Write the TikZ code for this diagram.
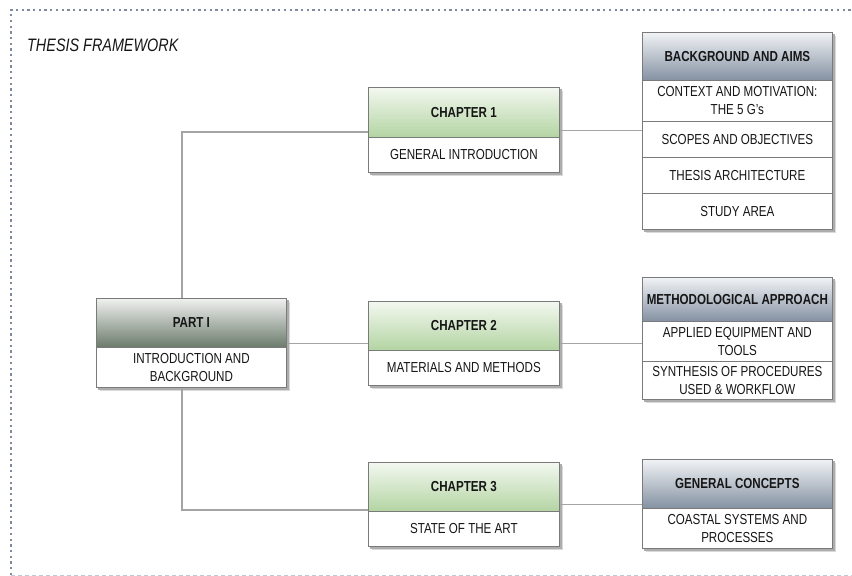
\documentclass[tikz,border=0pt]{standalone}
\usepackage{fontspec}
\setmainfont{Liberation Sans}[FakeStretch=0.8]
\usetikzlibrary{backgrounds}
\definecolor{bordc}{HTML}{7A7A7A}
\definecolor{connc}{HTML}{A4A4A4}
\definecolor{txtc}{HTML}{161616}
\definecolor{grtop}{HTML}{F3F8F0}
\definecolor{grbot}{HTML}{B3D4A2}
\definecolor{ptop}{HTML}{F0F1F0}
\definecolor{pbot}{HTML}{6B7B6B}
\definecolor{btop}{HTML}{F1F3F6}
\definecolor{bbot}{HTML}{8491A2}
\definecolor{framec}{HTML}{7F8B9D}
\definecolor{frameb}{HTML}{BCC8D6}
\tikzset{
  hdr/.style={draw=bordc, line width=0.7pt, anchor=north west, inner sep=0pt,
    font=\bfseries\fontsize{14.5}{18}\selectfont, align=center, text=txtc},
  rowbox/.style={draw=bordc, line width=0.7pt, fill=white, anchor=north west, inner sep=0pt,
    font=\fontsize{14.5}{18}\selectfont, align=center, text=txtc},
  greenh/.style={hdr, top color=grtop, bottom color=grbot, minimum width=191pt},
  parth/.style={hdr, top color=ptop, bottom color=pbot, minimum width=190pt},
  blueh/.style={hdr, top color=btop, bottom color=bbot, minimum width=190pt},
  conn/.style={draw=connc, line width=1.3pt},
  shad/.style={fill=black!32},
  shadl/.style={fill=black!15},
}
\newcommand\boxshadow[2]{%
  \fill[shadl] ([shift={(3.5pt,-3.5pt)}]#1.north west) rectangle ([shift={(3.5pt,-3.5pt)}]#2.south east);
  \fill[shad] ([shift={(2pt,-2pt)}]#1.north west) rectangle ([shift={(2pt,-2pt)}]#2.south east);}
\begin{document}
\begin{tikzpicture}[x=1pt,y=-1pt]
\useasboundingbox (0,0) rectangle (852,576);
% frame
\draw[framec, line width=2.3pt, dash pattern=on 2.3pt off 3.4pt] (11,575) -- (11,10) -- (852,10);
\draw[frameb, line width=1pt, dash pattern=on 4pt off 3pt] (11,575) -- (852,575);
\node[anchor=west, inner sep=0pt, text=txtc, font=\itshape\fontsize{18}{20}\selectfont] (title) at (27,45) {THESIS FRAMEWORK};

% Part I
\node[parth, minimum height=49pt] (p1h) at (96,298) {PART I};
\node[rowbox, minimum width=190pt, minimum height=40pt] (p1b) at (96,347) {INTRODUCTION AND\\BACKGROUND};

% Chapters
\node[greenh, minimum height=50pt] (ch1h) at (368,87) {CHAPTER 1};
\node[rowbox, minimum width=191pt, minimum height=35pt] (ch1b) at (368,137) {GENERAL INTRODUCTION};
\node[greenh, minimum height=49pt] (ch2h) at (368,301) {CHAPTER 2};
\node[rowbox, minimum width=191pt, minimum height=35pt] (ch2b) at (368,350) {MATERIALS AND METHODS};
\node[greenh, minimum height=49pt] (ch3h) at (368,462) {CHAPTER 3};
\node[rowbox, minimum width=191pt, minimum height=35pt] (ch3b) at (368,511) {STATE OF THE ART};

% Right boxes
\node[blueh, minimum height=48pt] (b1h) at (642,32) {BACKGROUND AND AIMS};
\node[rowbox, minimum width=190pt, minimum height=41pt] (b1r1) at (642,80) {CONTEXT AND MOTIVATION:\\THE 5 G's};
\node[rowbox, minimum width=190pt, minimum height=36pt] (b1r2) at (642,121) {SCOPES AND OBJECTIVES};
\node[rowbox, minimum width=190pt, minimum height=36pt] (b1r3) at (642,157) {THESIS ARCHITECTURE};
\node[rowbox, minimum width=190pt, minimum height=36pt] (b1r4) at (642,193) {STUDY AREA};

\node[blueh, minimum height=44pt] (b2h) at (642,277) {METHODOLOGICAL APPROACH};
\node[rowbox, minimum width=190pt, minimum height=40pt] (b2r1) at (642,321) {APPLIED EQUIPMENT AND\\TOOLS};
\node[rowbox, minimum width=190pt, minimum height=38pt] (b2r2) at (642,361) {SYNTHESIS OF PROCEDURES\\USED \& WORKFLOW};

\node[blueh, minimum height=49pt] (b3h) at (642,459) {GENERAL CONCEPTS};
\node[rowbox, minimum width=190pt, minimum height=40pt] (b3r1) at (642,508) {COASTAL SYSTEMS AND\\PROCESSES};

% connectors
\coordinate (j1) at (182,132);
\coordinate (j3) at (182,510);
\begin{scope}[on background layer]
  \boxshadow{p1h}{p1b}
  \boxshadow{ch1h}{ch1b}
  \boxshadow{ch2h}{ch2b}
  \boxshadow{ch3h}{ch3b}
  \boxshadow{b1h}{b1r4}
  \boxshadow{b2h}{b2r2}
  \boxshadow{b3h}{b3r1}
  \draw[conn] (ch1h.west |- j1) -- (j1) -- (j1 |- p1h.north);
  \draw[conn] (j3 |- p1b.south) -- (j3) -- (ch3h.west |- j3);
  \draw[conn] ([yshift=-20.5pt]p1h.east) -- ([yshift=-20.5pt]p1h.east -| ch2h.west);
  \draw[conn] ([yshift=-18pt]ch1h.east) -- ([yshift=-18pt]ch1h.east -| b1r2.west);
  \draw[conn] ([yshift=-17.5pt]ch2h.east) -- ([yshift=-17.5pt]ch2h.east -| b2r1.west);
  \draw[conn] ([yshift=-17.5pt]ch3h.east) -- ([yshift=-17.5pt]ch3h.east -| b3h.west);
\end{scope}
\end{tikzpicture}
\end{document}
